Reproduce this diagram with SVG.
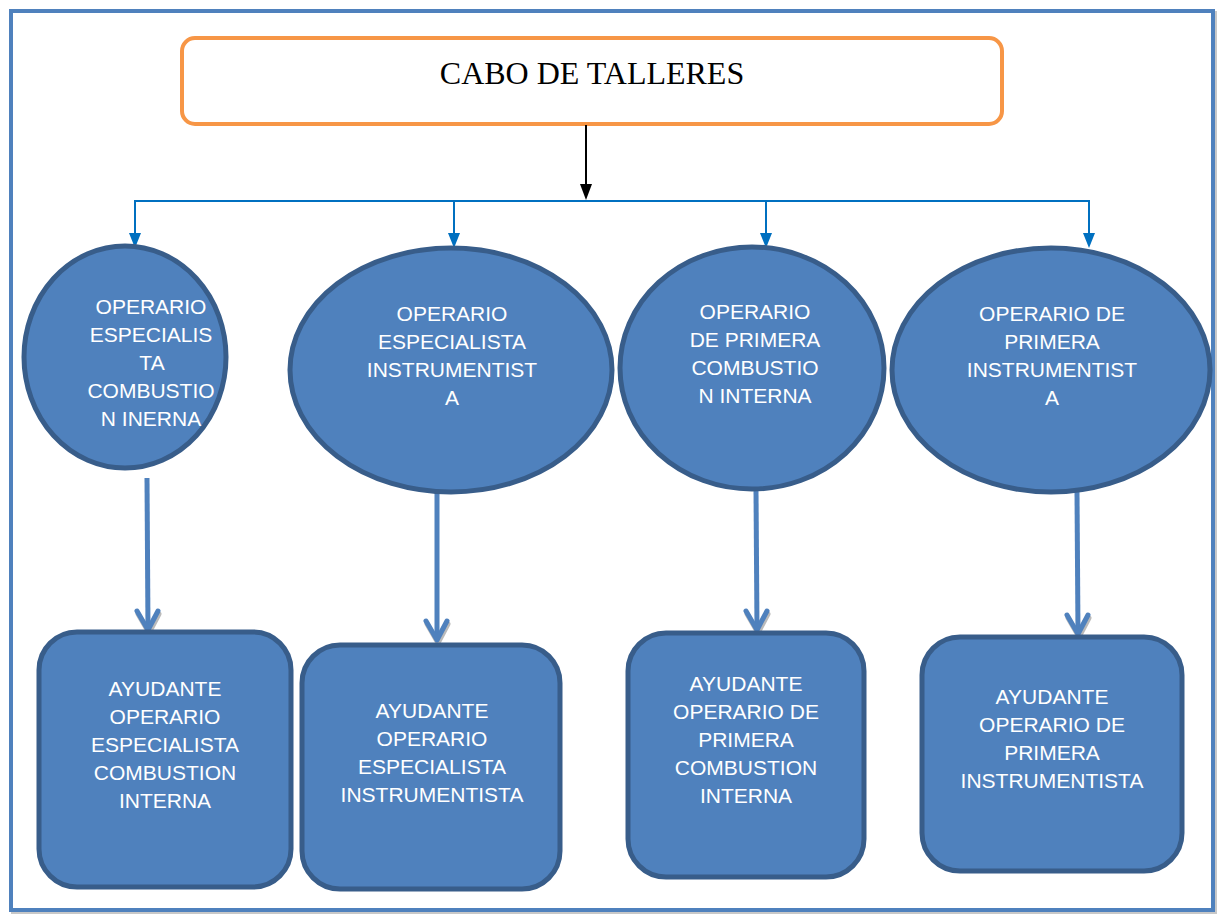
<svg xmlns="http://www.w3.org/2000/svg" width="1219" height="915" viewBox="0 0 1219 915">
<defs>
<style>
.frame{fill:#fff;stroke:#4F81BD;stroke-width:4}
.top{fill:#fff;stroke:#F79646;stroke-width:4}
.ell{fill:#4F81BD;stroke:#385D8A;stroke-width:5}
.box{fill:#4F81BD;stroke:#385D8A;stroke-width:5}
.t{font-family:"Liberation Sans",Arial,sans-serif;font-size:21px;fill:#fff;text-anchor:middle}
.title{font-family:"Liberation Serif","Times New Roman",serif;font-size:32px;fill:#000;text-anchor:middle}
.bl{stroke:#0070C0;stroke-width:2;fill:none}
.thick{stroke:#4F81BD;stroke-width:5;fill:none}
.chev{stroke:#4F81BD;stroke-width:5;fill:none;stroke-linejoin:round;stroke-linecap:round}
.chevs{stroke:#8c8c8c;stroke-width:5;fill:none;stroke-linejoin:round;stroke-linecap:round;opacity:0.6}
</style>
</defs>
<rect x="13" y="13" width="1202" height="899" fill="none" stroke="#c8c8c8" stroke-width="4"/>
<rect class="frame" x="11" y="11" width="1202" height="899"/>
<g id="n0">
<rect class="top" x="182" y="38" width="820" height="86" rx="13"/>
<text class="title" x="592" y="84">CABO DE TALLERES</text>
</g>
<g id="connectors">
<line x1="586" y1="125" x2="586" y2="186" stroke="#000" stroke-width="2"/>
<path d="M580,184 L592,184 L586,200 Z" fill="#000"/>
<line class="bl" x1="135" y1="201" x2="1089" y2="201"/>
<line class="bl" x1="135" y1="200" x2="135" y2="234"/>
<path d="M129,233 L141,233 L135,248 Z" fill="#0070C0"/>
<line class="bl" x1="454" y1="200" x2="454" y2="234"/>
<path d="M448,233 L460,233 L454,248 Z" fill="#0070C0"/>
<line class="bl" x1="766" y1="200" x2="766" y2="234"/>
<path d="M760,233 L772,233 L766,248 Z" fill="#0070C0"/>
<line class="bl" x1="1089" y1="200" x2="1089" y2="234"/>
<path d="M1083,233 L1095,233 L1089,248 Z" fill="#0070C0"/>
<line class="thick" x1="147" y1="478" x2="148" y2="630"/>
<polyline class="chevs" points="138,614 149,633 159,614"/>
<polyline class="chev" points="137,611 148,630 158,611"/>
<line class="thick" x1="437" y1="490" x2="437" y2="640"/>
<polyline class="chevs" points="427,624 438,643 448,624"/>
<polyline class="chev" points="426,621 437,640 447,621"/>
<line class="thick" x1="756" y1="490" x2="757" y2="630"/>
<polyline class="chevs" points="747,614 758,633 768,614"/>
<polyline class="chev" points="746,611 757,630 767,611"/>
<line class="thick" x1="1077" y1="492" x2="1078" y2="634"/>
<polyline class="chevs" points="1068,618 1079,637 1089,618"/>
<polyline class="chev" points="1067,615 1078,634 1088,615"/>
</g>
<g id="n1">
<ellipse class="ell" cx="125" cy="357" rx="101" ry="111"/>
<text class="t" x="151" y="314">OPERARIO</text>
<text class="t" x="151" y="342">ESPECIALIS</text>
<text class="t" x="152" y="370">TA</text>
<text class="t" x="151" y="398">COMBUSTIO</text>
<text class="t" x="151" y="426">N INERNA</text>
</g>
<g id="n2">
<ellipse class="ell" cx="451" cy="370" rx="161" ry="122"/>
<text class="t" x="452" y="321">OPERARIO</text>
<text class="t" x="452" y="349">ESPECIALISTA</text>
<text class="t" x="452" y="377">INSTRUMENTIST</text>
<text class="t" x="452" y="405">A</text>
</g>
<g id="n3">
<ellipse class="ell" cx="752" cy="368" rx="132" ry="121"/>
<text class="t" x="755" y="319">OPERARIO</text>
<text class="t" x="755" y="347">DE PRIMERA</text>
<text class="t" x="755" y="375">COMBUSTIO</text>
<text class="t" x="755" y="403">N INTERNA</text>
</g>
<g id="n4">
<ellipse class="ell" cx="1051" cy="370" rx="159" ry="122"/>
<text class="t" x="1052" y="321">OPERARIO DE</text>
<text class="t" x="1052" y="349">PRIMERA</text>
<text class="t" x="1052" y="377">INSTRUMENTIST</text>
<text class="t" x="1052" y="405">A</text>
</g>
<g id="n5">
<rect class="box" x="39" y="632" width="252" height="255" rx="38"/>
<text class="t" x="165" y="696">AYUDANTE</text>
<text class="t" x="165" y="724">OPERARIO</text>
<text class="t" x="165" y="752">ESPECIALISTA</text>
<text class="t" x="165" y="780">COMBUSTION</text>
<text class="t" x="165" y="808">INTERNA</text>
</g>
<g id="n6">
<rect class="box" x="302" y="645" width="258" height="244" rx="38"/>
<text class="t" x="432" y="718">AYUDANTE</text>
<text class="t" x="432" y="746">OPERARIO</text>
<text class="t" x="432" y="774">ESPECIALISTA</text>
<text class="t" x="432" y="802">INSTRUMENTISTA</text>
</g>
<g id="n7">
<rect class="box" x="628" y="633" width="236" height="244" rx="38"/>
<text class="t" x="746" y="691">AYUDANTE</text>
<text class="t" x="746" y="719">OPERARIO DE</text>
<text class="t" x="746" y="747">PRIMERA</text>
<text class="t" x="746" y="775">COMBUSTION</text>
<text class="t" x="746" y="803">INTERNA</text>
</g>
<g id="n8">
<rect class="box" x="922" y="637" width="260" height="234" rx="38"/>
<text class="t" x="1052" y="704">AYUDANTE</text>
<text class="t" x="1052" y="732">OPERARIO DE</text>
<text class="t" x="1052" y="760">PRIMERA</text>
<text class="t" x="1052" y="788">INSTRUMENTISTA</text>
</g>
</svg>
